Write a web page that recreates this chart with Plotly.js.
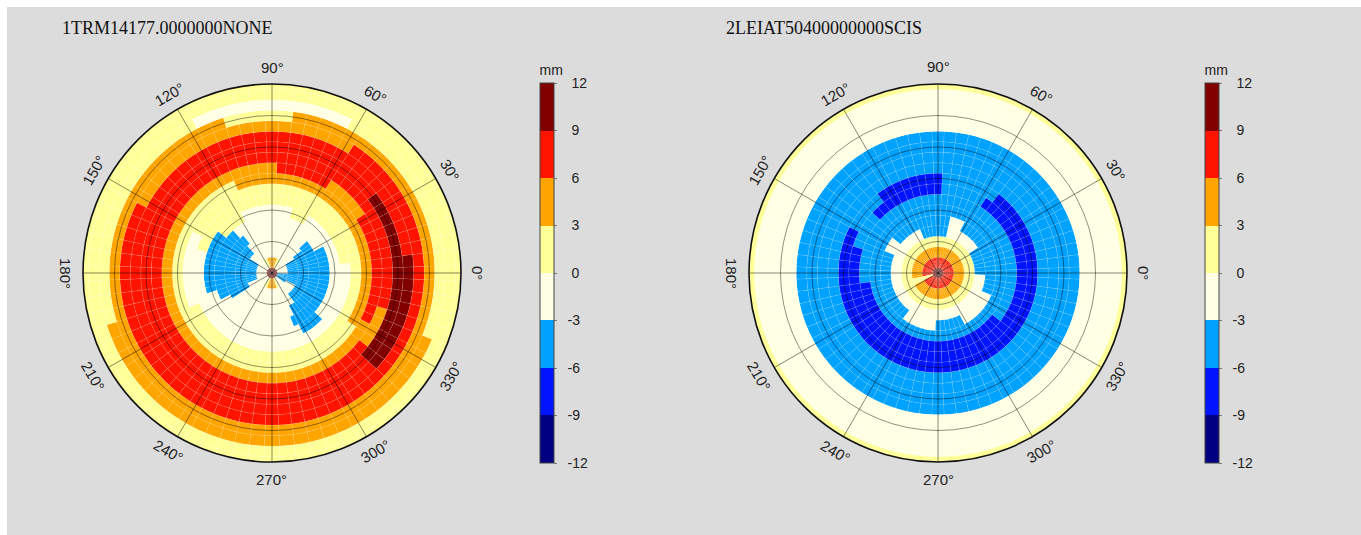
<!DOCTYPE html>
<html>
<head>
<meta charset="utf-8">
<script src="https://cdn.plot.ly/plotly-3.0.1.min.js"></script>
<style>
html,body{margin:0;padding:0;background:#dcdcdc;}
#chart{width:1361px;height:535px;}
</style>
</head>
<body>
<div id="chart"></div>
<script>
// ---------------- data ----------------
const titles = ['1TRM14177.0000000NONE', '2LEIAT50400000000SCIS'];
const zenith = [0,5,10,15,20,25,30,35,40,45,50,55,60,65,70,75,80,85,90]; // cell centres (deg)
const azStep = 5;                                  // azimuth bin width (deg)
const colorTicks = [-12,-9,-6,-3,0,3,6,9,12];
const angTicks = [0,30,60,90,120,150,180,210,240,270,300,330];
const radialGrid = [15,30,45,60,75];

// representative PCV values (mm) per colour class
const D = 10.5, R = 7.5, O = 4.5, Y = 1.5, C = -1.5, B = -4.5, DB = -7.5;

// each ring: [default value, [[azFrom, azTo, value], ...]]  (one entry per zenith)
const trmRings = [
  [D,  []],
  [C,  [[75,105,O],[255,285,O],[60,70,Y],[110,120,Y],[240,250,Y],[290,295,Y],[325,355,B]]],
  [C,  [[150,200,B],[335,30,B]]],
  [C,  [[135,210,B],[310,35,B]]],
  [C,  [[130,210,B],[300,40,B]]],
  [C,  [[135,205,B],[295,25,B]]],
  [C,  [[145,195,B],[300,315,B],[60,70,Y],[120,140,Y]]],
  [C,  [[10,160,Y]]],
  [Y,  [[155,200,C]]],
  [Y,  [[330,110,O]]],
  [O,  [[335,30,R],[60,85,R]]],
  [R,  [[325,340,O]]],
  [R,  [[320,35,D]]],
  [R,  [[320,5,D]]],
  [R,  [[60,150,O]]],
  [O,  [[85,105,Y]]],
  [Y,  [[65,115,C],[200,335,O]]],
  [Y,  []],
  [Y,  []]
];

const leiRings = [
  [D,  []],
  [R,  [[195,205,Y]]],
  [O,  [[195,205,Y]]],
  [Y,  []],
  [C,  [[0,30,B],[80,110,B]]],
  [B,  [[65,75,C],[145,155,C],[235,265,C],[300,335,C]]],
  [B,  []],
  [B,  [[190,320,DB]]],
  [B,  [[165,55,DB],[90,135,DB]]],
  [B,  [[155,50,DB],[90,125,DB]]],
  [B,  []],
  [B,  []],
  [B,  []],
  [B,  []],
  [C,  []],
  [C,  []],
  [C,  []],
  [C,  []],
  [Y,  []]
];

// ---------------- build ----------------
const W = 1361, H = 535;
const colors = ['#000080','#0014ff','#00a2ff','#ffffe6','#ffff99','#ffa500','#ff1400','#800000'];
const cscale = [];
colors.forEach((c,i)=>{ cscale.push([i/8,c]); cscale.push([(i+1)/8,c]); });

function inRange(a, f, t){ return f <= t ? (a >= f && a <= t) : (a >= f || a <= t); }

function buildTrace(rings, sub, cax){
  const r=[], base=[], theta=[], val=[];
  const zMax = zenith[zenith.length-1];
  zenith.forEach((z, i)=>{
    const [def, ov] = rings[i];
    const lo = Math.max(0, z - 2.5), hi = Math.min(zMax, z + 2.5);
    for(let a = 0; a < 360; a += azStep){
      let v = def;
      ov.forEach(([f,t,vv])=>{ if(inRange(a,f,t)) v = vv; });
      base.push(lo); r.push(hi-lo); theta.push(a); val.push(v);
    }
  });
  return {
    type:'barpolar', subplot:sub, r:r, base:base, theta:theta, width:azStep,
    marker:{color:val, coloraxis:cax, line:{color:'rgba(255,255,255,0.18)', width:0.5}},
    hoverinfo:'skip', showlegend:false
  };
}

const domains = [
  {x:[83/W, 461/W], y:[1-462/H, 1-84/H]},
  {x:[749/W, 1127/W], y:[1-462/H, 1-84/H]}
];

function polarLayout(dom){
  return {
    domain: dom,
    bgcolor:'#ffffe6',
    radialaxis:{range:[0,90], tickvals:radialGrid, showticklabels:false, ticks:'',
      showline:false, gridcolor:'rgba(0,0,0,0.55)', gridwidth:0.8},
    angularaxis:{rotation:0, direction:'counterclockwise', tickvals:angTicks,
      showticklabels:false, ticks:'', showline:true, linecolor:'#111', linewidth:1.6,
      gridcolor:'rgba(0,0,0,0.6)', gridwidth:0.8}
  };
}

const NB = '\u00a0';
function cbar(xpx){
  return {
    cmin:-12, cmax:12, colorscale:cscale, showscale:true,
    colorbar:{
      x:xpx/W, xanchor:'left', xpad:0, ypad:0, y:1-463/H, yanchor:'bottom',
      len:401/H, lenmode:'fraction', thickness:14, thicknessmode:'pixels',
      outlinecolor:'#444', outlinewidth:1,
      tickmode:'array', tickvals:colorTicks,
      ticktext:colorTicks.map(v => (v < 0 ? NB+NB : NB+NB+NB) + String(v)),
      ticks:'outside', ticklen:3, tickcolor:'#777',
      tickfont:{family:'Liberation Sans, Arial, sans-serif', size:14, color:'#222'},
      title:{text:'mm', side:'top', font:{family:'Liberation Sans, Arial, sans-serif', size:14, color:'#222'}}
    }
  };
}

const annotations = [];
titles.forEach((t,i)=>{
  annotations.push({xref:'paper', yref:'paper', x:(i===0?60:724)/W, y:1-28/H,
    xanchor:'left', yanchor:'middle', showarrow:false, text:t,
    font:{family:'Liberation Serif, Times New Roman, serif', size:18, color:'#111'}});
});
domains.forEach(dom=>{
  const x0=dom.x[0]*W, x1=dom.x[1]*W, y0=(1-dom.y[1])*H, y1=(1-dom.y[0])*H;
  const cx=(x0+x1)/2, cy=(y0+y1)/2, Rl=Math.min(x1-x0,y1-y0)/2 + 17;
  angTicks.forEach(t=>{
    const a=t*Math.PI/180;
    let rot=90-t; while(rot>90) rot-=180; while(rot<=-90) rot+=180;
    annotations.push({xref:'paper', yref:'paper', x:(cx+Rl*Math.cos(a))/W, y:1-(cy-Rl*Math.sin(a))/H,
      xanchor:'center', yanchor:'middle', showarrow:false, text:t+'°', textangle:rot,
      font:{family:'Liberation Sans, Arial, sans-serif', size:15, color:'#222'}});
  });
});

const layout = {
  width:W, height:H, margin:{l:0,r:0,t:0,b:0},
  paper_bgcolor:'#dcdcdc',
  polar: polarLayout(domains[0]),
  polar2: polarLayout(domains[1]),
  coloraxis: cbar(540),
  coloraxis2: cbar(1205),
  annotations: annotations,
  shapes:[
    {type:'rect', xref:'paper', yref:'paper', x0:0, x1:1, y0:1-7/H, y1:1, fillcolor:'#ffffff', line:{width:0}, layer:'below'},
    {type:'rect', xref:'paper', yref:'paper', x0:0, x1:7/W, y0:0, y1:1, fillcolor:'#ffffff', line:{width:0}, layer:'below'}
  ],
  showlegend:false
};

const data = [buildTrace(trmRings,'polar','coloraxis'), buildTrace(leiRings,'polar2','coloraxis2')];

Plotly.newPlot('chart', data, layout, {staticPlot:true, displayModeBar:false}).then(gd=>{
  // draw the polar grid above the cells, as in the reference
  gd.querySelectorAll('.polarlayer > g').forEach(sp=>{
    const front = sp.querySelector(':scope > .frontplot');
    if(!front) return;
    ['angular-grid','radial-grid'].forEach(cls=>{
      const g = sp.querySelector(':scope > .' + cls);
      if(g) sp.insertBefore(g, front.nextSibling);
    });
  });
});
</script>
</body>
</html>
